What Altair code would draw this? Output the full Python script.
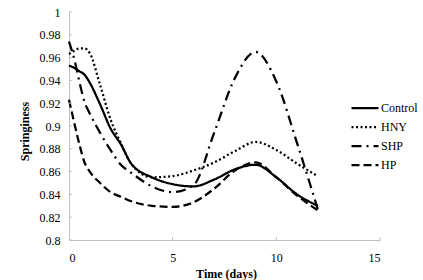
import altair as alt
import pandas as pd

DAYS = [0, 0.25, 0.5, 0.75, 1, 1.5, 2, 2.5, 3, 4, 5, 6, 7, 8, 9, 10, 11, 12]
CONTROL = [0.953, 0.951, 0.948, 0.945, 0.938, 0.919, 0.898, 0.884, 0.867, 0.855, 0.849, 0.847, 0.853, 0.862, 0.866, 0.855, 0.840, 0.830]
HNY = [0.963, 0.966, 0.968, 0.968, 0.964, 0.936, 0.906, 0.885, 0.867, 0.855, 0.856, 0.861, 0.868, 0.878, 0.886, 0.879, 0.867, 0.856]
SHP = [0.974, 0.959, 0.939, 0.921, 0.911, 0.894, 0.879, 0.866, 0.859, 0.847, 0.842, 0.848, 0.894, 0.942, 0.965, 0.939, 0.885, 0.827]
HP = [0.923, 0.903, 0.884, 0.868, 0.860, 0.850, 0.842, 0.838, 0.834, 0.830, 0.829, 0.833, 0.845, 0.861, 0.868, 0.855, 0.839, 0.826]

SERIES = ["Control", "HNY", "SHP", "HP"]
X_TICKS = [0, 5, 10, 15]
Y_TICKS = [0.8, 0.82, 0.84, 0.86, 0.88, 0.9, 0.92, 0.94, 0.96, 0.98, 1.0]

rows = []
for name, vals in zip(SERIES, [CONTROL, HNY, SHP, HP]):
    for d, v in zip(DAYS, vals):
        rows.append({"series": name, "day": d, "value": v})
df = pd.DataFrame(rows)

FONT = "Liberation Serif"
GRAY = "#bfbfbf"

X_SCALE = alt.Scale(domain=[0, 15], nice=False)
Y_SCALE = alt.Scale(domain=[0.8, 1.0], nice=False, zero=False)
X_AXIS = alt.Axis(values=X_TICKS, title="Time (days)", grid=False, tickSize=0,
                  labelPadding=12, domainColor=GRAY, titleBaseline="middle",
                  titleY=33, titleX=157, labelOverlap=False)
Y_AXIS = alt.Axis(values=Y_TICKS, title="Springiness", grid=False, tickSize=0,
                  labelPadding=9, domainColor=GRAY, labelOverlap=False,
                  labelExpr="format(datum.value, '.2~f')",
                  titleX=-45, titleY=119, titleBaseline="middle")

lines = alt.Chart(df).mark_line(interpolate="monotone", strokeWidth=2.25, color="black").encode(
    x=alt.X("day:Q", scale=X_SCALE, axis=X_AXIS),
    y=alt.Y("value:Q", scale=Y_SCALE, axis=Y_AXIS),
    strokeDash=alt.StrokeDash("series:N",
                              scale=alt.Scale(domain=SERIES,
                                              range=[[1, 0], [2, 2.5], [10, 5, 2, 5], [8, 4]]),
                              legend=alt.Legend(title=None, orient="none", legendX=281, legendY=90,
                                                symbolType="stroke", symbolSize=729,
                                                symbolStrokeWidth=2.25, symbolStrokeColor="black",
                                                labelFontSize=12, labelFont=FONT, labelColor="black",
                                                labelOffset=1, rowPadding=7, padding=0,
                                                clipHeight=12)),
    detail="series:N",
    order="day:Q",
)

yt = alt.Chart(pd.DataFrame({"value": Y_TICKS})).mark_rule(color=GRAY, strokeWidth=1).encode(
    y=alt.Y("value:Q", scale=Y_SCALE, axis=Y_AXIS), x=alt.value(0), x2=alt.value(3))
xt = alt.Chart(pd.DataFrame({"day": X_TICKS[1:]})).mark_rule(color=GRAY, strokeWidth=1).encode(
    x=alt.X("day:Q", scale=X_SCALE, axis=X_AXIS), y=alt.value(228), y2=alt.value(225))

chart = alt.layer(lines, yt, xt).properties(
    width=311, height=228,
    autosize=alt.AutoSizeParams(type="none"),
    padding={"left": 69, "top": 12, "right": 43, "bottom": 40},
).configure_view(stroke=None).configure_axis(
    labelFont=FONT, labelFontSize=12, labelColor="black", labelOverlap=False,
    titleFont=FONT, titleFontSize=12, titleColor="black", titleFontWeight="bold",
)

chart.save("out.html", embed_options={"renderer": "svg", "actions": False})
